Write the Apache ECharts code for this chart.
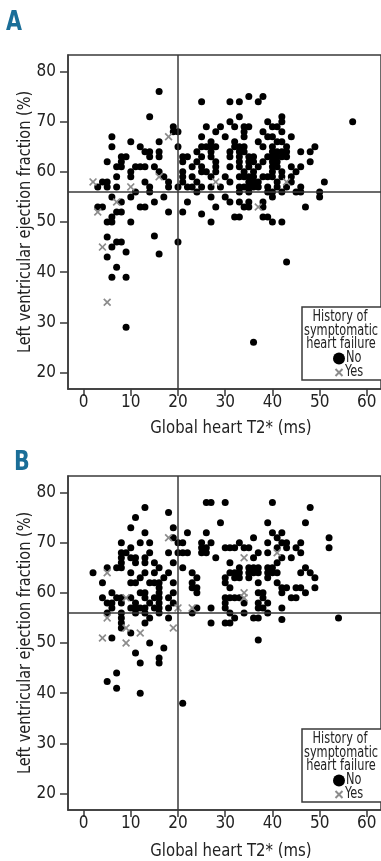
<!DOCTYPE html>
<html>
<head>
<meta charset="utf-8">
<script src="https://cdn.jsdelivr.net/npm/echarts@6/dist/echarts.min.js"></script>
<style>
html,body{margin:0;padding:0;background:#fff;}
#c{width:381px;height:861px;}
</style>
</head>
<body>
<div id="c"></div>
<script>
const FONT = '"Liberation Sans Narrow","DejaVu Sans Condensed",Roboto,sans-serif';
const xTicks = [0, 10, 20, 30, 40, 50, 60];
const yTicks = [20, 30, 40, 50, 60, 70, 80];
const refT2 = 20;
const refLVEF = 56;

const panelA_no = [
[16,76],[35,75],[38,75],[25,74],[31,74],[33,74],[37,74],
[14,71],[33,71],[42,71],[31,70],[39,70],[42,70],[57,70],
[19,69],[26,69],[29,69],[32,69],[34,69],[35,69],[40,69],[41,69],
[19,68],[20,68],[28,68],[34,68],[38,68],[42,68],
[6,67],[25,67],[30,67],[34,67],[39,67],[40,67],[44,67],
[10,66],[16,66],[27,66],[32,66],[37,66],[41,66],[42,66],
[6,65],[12,65],[20,65],[25,65],[26,65],[27,65],[28,65],[32,65],[33,65],[34,65],[38,65],[40,65],[43,65],[49,65],
[13,64],[14,64],[16,64],[24,64],[27,64],[31,64],[33,64],[34,64],[40,64],[41,64],[42,64],[43,64],[46,64],[48,64],
[8,63],[9,63],[14,63],[16,63],[21,63],[22,63],[25,63],[27,63],[31,63],[33,63],[35,63],[36,63],[39,63],[40,63],[41,63],[42,63],[43,63],
[5,62],[8,62],[21,62],[24,62],[28,62],[33,62],[35,62],[36,62],[38,62],[40,62],[41,62],[48,62],
[7,61],[8,61],[11,61],[12,61],[13,61],[15,61],[23,61],[25,61],[28,61],[31,61],[33,61],[35,61],[37,61],[40,61],[41,61],[44,61],[46,61],
[10,60],[16,60],[21,60],[25,60],[26,60],[28,60],[34,60],[36,60],[40,60],[42,60],[45,60],
[7,59],[10,59],[17,59],[21,59],[23,59],[27,59],[30,59],[33,59],[34,59],[35,59],[36,59],[38,59],[39,59],[40,59],[42,59],[44,59],
[4,58],[5,58],[13,58],[18,58],[21,58],[24,58],[31,58],[35,58],[36,58],[37,58],[41,58],[44,58],[51,58],
[3,57],[5,57],[7,57],[14,57],[18,57],[20,57],[22,57],[23,57],[25,57],[27,57],[29,57],[33,57],[34,57],[35,57],[36,57],[37,57],[39,57],[41,57],[43,57],[46,57],
[11,56],[14,56],[24,56],[33,56],[35,56],[39,56],[40,56],[42,56],[45,56],[46,56],[50,56],
[6,55],[10,55],[17,55],[27,55],[30,55],[40,55],[50,55],
[8,54],[15,54],[22,54],[31,54],[33,54],[35,54],[38,54],
[3,53],[4,53],[12,53],[13,53],[28,53],[34,53],[35,53],[38,53],[47,53],
[7,52],[8,52],[18,52],[21,52],[25,51.6],
[6,51],[32,51],[33,51],[38,51],[39,51],
[5,50],[6,50],[10,50],[27,50],[40,50],[42,50],
[5,47],[15,47.2],[7,46],[8,46],[20,46],[6,45],[9,44],[16,43.6],[5,43],[43,42],[7,41],[6,39],[9,39],[9,29],[36,26]
];
const panelA_yes = [[18,67],[16,59],[2,58],[28,58],[43,58],[10,57],[7,54],[37,53],[3,52],[4,45],[5,34]];

const panelB_no = [
[13,77],[18,76],[11,75],[10,73],[19,73],[13,72],[19,71],
[26,78],[27,78],[30,78],[40,78],[48,77],[29,74],[39,74],[47,74],[22,72],[26,72],[40,72],[42,72],[41,71],[36,71],[52,71],[52,69],
[8,70],[12,70],[14,70],[20,70],[21,70],[25,70],[27,70],[33,70],[39,70],[42,70],[43,70],[46,70],
[10,69],[25,69],[26,69],[30,69],[31,69],[32,69],[34,69],[35,69],[41,69],[43,69],[45,69],
[8,68],[9,68],[14,68],[18,68],[20,68],[21,68],[22,68],[25,68],[26,68],[37,68],[39,68],[46,68],
[8,67],[10,67],[11,67],[13,67],[28,67],[36,67],[42,67],[44,67],
[8,66],[11,66],[13,66],[15,66],[19,66],[31,66],[41,66],
[5,65],[7,65],[8,65],[16,65],[21,65],[33,65],[35,65],[36,65],[37,65],[39,65],[40,65],[47,65],
[2,64],[10,64],[13,64],[15,64],[18,64],[23,64],[31,64],[32,64],[33,64],[35,64],[36,64],[37,64],[39,64],[40,64],[41,64],[46,64],[48,64],
[12,63],[17,63],[24,63],[30,63],[32,63],[33,63],[35,63],[39,63],[49,63],
[4,62],[10,62],[11,62],[14,62],[15,62],[16,62],[19,62],[23,62],[30,62],[37,62],[41,62],
[16,61],[23,61],[24,61],[31,61],[42,61],[43,61],[45,61],[46,61],[49,61],
[6,60],[12,60],[13,60],[16,60],[19,60],[24,60],[37,60],[38,60],[42,60],[47,60],
[4,59],[7,59],[8,59],[10,59],[13,59],[15,59],[16,59],[18,59],[30,59],[31,59],[32,59],[33,59],[38,59],[44,59],[45,59],
[5,58],[6,58],[8,58],[11,58],[14,58],[16,58],[19,58],[30,58],[34,58],[37,58],[39,58],
[6,57],[10,57],[11,57],[12,57],[13,57],[15,57],[16,57],[18,57],[24,57],[27,57],[30,57],[37,57],[38,57],[42,57],
[5,56],[8,56],[11,56],[13,56],[16,56],[23,56],[31,56],[34,56],[39,56],
[8,55],[14,55],[18,55],[32,55],[36,55],[37,55],[54,55],[42,54.7],
[8,54],[13,54],[27,54],[30,54],[31,54],
[8,53],[10,52],[6,51],[37,50.6],[14,50],[17,49],[11,48],[16,47],[16,46],[12,46],[7,44],[5,42.3],[7,41],[12,40],[21,38]
];
const panelB_yes = [[18,71],[41,68],[34,67],[5,64],[34,60],[34,59],[9,59],[20,57],[23,57],[5,55],[9,53],[19,53],[12,52],[4,51],[9,50]];

const X_PATH = 'path://M0,1.5L1.5,0L5,3.5L8.5,0L10,1.5L6.5,5L10,8.5L8.5,10L5,6.5L1.5,10L0,8.5L3.5,5Z';
const AXC = '#3a3a3a';
const GRAY = '#8c8c8c';
const GRID_TOPS = [55, 476];
const NARROW = 0.84;

function xAxisFor(i){
  return {gridIndex:i, type:'value', min:-3.3, max:63,
    splitLine:{show:false},
    axisLine:{show:true, onZero:false, lineStyle:{color:AXC, width:1.5}},
    axisTick:{show:true, customValues:xTicks, length:7, lineStyle:{color:AXC, width:1.5}},
    axisLabel:{customValues:xTicks, fontSize:17, color:'#222', fontFamily:FONT, margin:5}};
}
function yAxisFor(i){
  return {gridIndex:i, type:'value', min:16.7, max:83.3,
    splitLine:{show:false},
    axisLine:{show:true, onZero:false, lineStyle:{color:AXC, width:1.5}},
    axisTick:{show:true, customValues:yTicks, length:8, lineStyle:{color:AXC, width:1.5}},
    axisLabel:{customValues:yTicks, fontSize:17, color:'#222', fontFamily:FONT, margin:12}};
}
function refLines(){
  return {silent:true, symbol:['none','none'], label:{show:false},
    lineStyle:{color:AXC, width:1.5, type:'solid'},
    emphasis:{disabled:true},
    data:[{xAxis:refT2},{yAxis:refLVEF}]};
}
function noSeries(i, data){
  return {type:'scatter', xAxisIndex:i, yAxisIndex:i, data:data, symbol:'circle', symbolSize:7,
    itemStyle:{color:'#000', opacity:1}, markLine:refLines(), z:3};
}
function yesSeries(i, data){
  return {type:'scatter', xAxisIndex:i, yAxisIndex:i, data:data, symbol:X_PATH, symbolSize:8,
    itemStyle:{color:GRAY, opacity:1}, z:4};
}

function txt(x, y, text, size, align, extra){
  return Object.assign({type:'text', x:x, y:y, scaleX:NARROW, z:11,
    style:{text:text, fontSize:size, fontFamily:FONT, fill:'#222', align:align, verticalAlign:'middle'}}, extra||{});
}

function legendGraphics(top){
  const cx = 339;
  const my = top + 65.5;
  return [
    {type:'rect', shape:{x:302, y:top, width:100, height:73}, style:{fill:'#fff', stroke:AXC, lineWidth:1.5}, z:10},
    txt(340, top+10, 'History of', 15, 'center'),
    txt(341, top+24, 'symptomatic', 15, 'center'),
    txt(341, top+37.5, 'heart failure', 15, 'center'),
    {type:'circle', shape:{cx:cx, cy:top+51.5, r:6}, style:{fill:'#000'}, z:11},
    txt(346, top+51.5, 'No', 15, 'left'),
    {type:'line', shape:{x1:cx-3.5, y1:my-3.5, x2:cx+3.5, y2:my+3.5}, style:{stroke:GRAY, lineWidth:2}, z:11},
    {type:'line', shape:{x1:cx-3.5, y1:my+3.5, x2:cx+3.5, y2:my-3.5}, style:{stroke:GRAY, lineWidth:2}, z:11},
    txt(345, my, 'Yes', 15, 'left')
  ];
}

const chart = echarts.init(document.getElementById('c'), null, {renderer:'canvas'});
const graphics = [
  {type:'text', x:6, y:9, scaleX:0.85, style:{text:'A', fontSize:27, fontWeight:'bold', fontFamily:FONT, fill:'#1a6e98'}},
  {type:'text', x:14, y:449, scaleX:0.85, style:{text:'B', fontSize:27, fontWeight:'bold', fontFamily:FONT, fill:'#1a6e98'}},
  {type:'text', x:25, y:222, rotation:Math.PI/2, scaleX:0.92, style:{text:'Left ventricular ejection fraction (%)', fontSize:17.5, fontFamily:FONT, fill:'#222', align:'center', verticalAlign:'middle'}},
  {type:'text', x:25, y:643, rotation:Math.PI/2, scaleX:0.92, style:{text:'Left ventricular ejection fraction (%)', fontSize:17.5, fontFamily:FONT, fill:'#222', align:'center', verticalAlign:'middle'}},
  {type:'text', x:231, y:428, scaleX:0.92, style:{text:'Global heart T2* (ms)', fontSize:18, fontFamily:FONT, fill:'#222', align:'center', verticalAlign:'middle'}},
  {type:'text', x:231, y:851, scaleX:0.92, style:{text:'Global heart T2* (ms)', fontSize:18, fontFamily:FONT, fill:'#222', align:'center', verticalAlign:'middle'}}
].concat(legendGraphics(307)).concat(legendGraphics(729));

chart.setOption({
  backgroundColor:'#fff',
  animation:false,
  grid:[
    {left:68, top:GRID_TOPS[0], width:319, height:334, show:true, borderColor:AXC, borderWidth:1.5},
    {left:68, top:GRID_TOPS[1], width:319, height:334, show:true, borderColor:AXC, borderWidth:1.5}
  ],
  xAxis:[xAxisFor(0), xAxisFor(1)],
  yAxis:[yAxisFor(0), yAxisFor(1)],
  series:[noSeries(0, panelA_no), yesSeries(0, panelA_yes), noSeries(1, panelB_no), yesSeries(1, panelB_yes)],
  graphic:graphics
});
</script>
</body>
</html>
